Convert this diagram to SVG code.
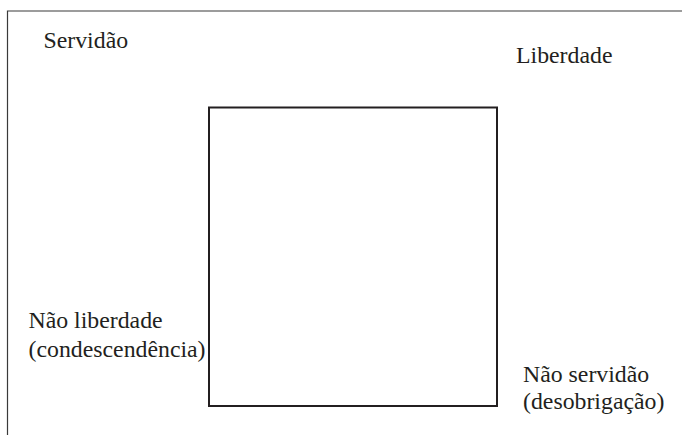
<svg xmlns="http://www.w3.org/2000/svg" width="682" height="435" viewBox="0 0 682 435">
<style>
text{font-family:'Liberation Serif','Times New Roman','DejaVu Serif',serif;font-size:23.8px;fill:#231f20}
.frame{fill:none;stroke:#3a3a3a;stroke-width:1.2}
.box{fill:none;stroke:#231f20;stroke-width:2}
</style>
<rect width="682" height="435" fill="#ffffff"/>
<g id="frame"><path class="frame" d="M7.5,435 V11 H682"/></g>
<g id="square"><rect class="box" x="209" y="107.5" width="288" height="298.5"/></g>
<g id="servidao"><text x="43.5" y="47.5">Servidão</text></g>
<g id="liberdade"><text x="516" y="62.5">Liberdade</text></g>
<g id="nao-liberdade"><text x="28.5" y="328">Não liberdade</text><text x="28.5" y="357">(condescendência)</text></g>
<g id="nao-servidao"><text x="523" y="381.5">Não servidão</text><text x="523" y="409">(desobrigação)</text></g>
<g id="connectors"></g>
</svg>
